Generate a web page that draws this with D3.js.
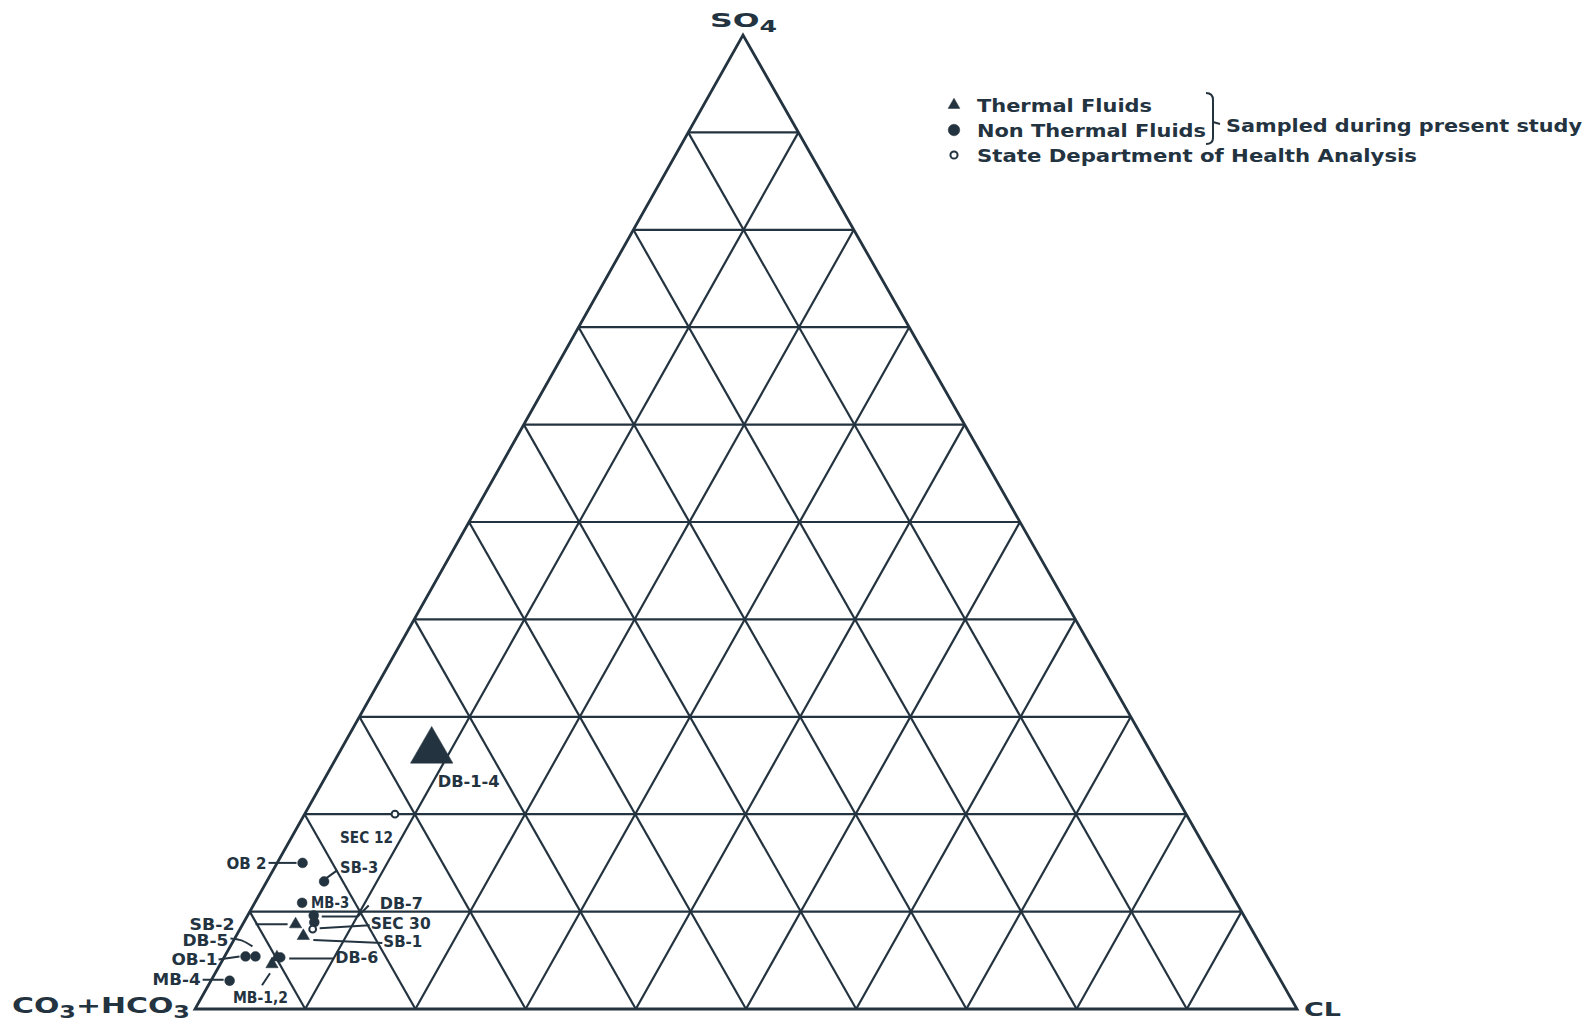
<!DOCTYPE html>
<html>
<head>
<meta charset="utf-8">
<script src="https://cdn.jsdelivr.net/npm/d3@7"></script>
<style>
  body { margin: 0; background: #fff; }
  .labelText { font-family: 'DejaVu Sans', sans-serif; font-weight: bold; fill: #23333f; }
</style>
</head>
<body>
<svg id="svg_piper"></svg>
<script>
// samples (fractions of CO3+HCO3, SO4, CL)
const sampleNames = ['DB-1-4', 'SEC 12', 'OB 2', 'SB-3', 'MB-3', 'DB-7', 'DB-7b', 'SB-2', 'SEC 30', 'SB-1', 'OB-1', 'DB-5', 'DB-6', 'MB-1', 'MB-2', 'MB-4'];
const sampleTypes = ['thermalGroup', 'state', 'nonthermal', 'nonthermal', 'nonthermal', 'nonthermal', 'nonthermal', 'thermal', 'state', 'thermal', 'nonthermal', 'nonthermal', 'nonthermal', 'thermal', 'thermal', 'nonthermal'];
const carbValues = [0.652, 0.718, 0.827, 0.817, 0.848, 0.844, 0.847, 0.865, 0.852, 0.864, 0.927, 0.918, 0.896, 0.907, 0.899, 0.954];
const so4Values  = [0.265, 0.200, 0.150, 0.131, 0.109, 0.096, 0.089, 0.087, 0.082, 0.075, 0.054, 0.054, 0.053, 0.046, 0.053, 0.029];
const clValues   = [0.083, 0.082, 0.023, 0.052, 0.043, 0.060, 0.064, 0.048, 0.066, 0.061, 0.019, 0.028, 0.051, 0.047, 0.048, 0.017];

const gridSteps = [0.1, 0.2, 0.3, 0.4, 0.5, 0.6, 0.7, 0.8, 0.9];
const legendLabels = ['Thermal Fluids', 'Non Thermal Fluids', 'State Department of Health Analysis'];
const bracketLabel = 'Sampled during present study';

// label placement relative to the sample (dx, dy, anchor, leader polyline)
const annotations = [
  { name: 'DB-1-4', text: 'DB-1-4', dx: 6, dy: 36, anchor: 'start', len: 62 },
  { name: 'SEC 12', text: 'SEC 12', dx: -2, dy: 29, anchor: 'end', len: 53 },
  { name: 'OB 2', text: 'OB 2', dx: -36, dy: 6, anchor: 'end', len: 40, leader: [[-34, 0], [-6, 0]] },
  { name: 'SB-3', text: 'SB-3', dx: 16, dy: -8, anchor: 'start', len: 38, leader: [[2, -3], [13, -11]] },
  { name: 'MB-3', text: 'MB-3', dx: 9, dy: 5, anchor: 'start', len: 38 },
  { name: 'DB-7', text: 'DB-7', dx: 66, dy: -6, anchor: 'start', len: 43, leader: [[8, 1], [44, 1], [55, -10]] },
  { name: 'SB-2', text: 'SB-2', dx: -61, dy: 6, anchor: 'end', len: 45, leader: [[-40, 0], [-8, 0]] },
  { name: 'SEC 30', text: 'SEC 30', dx: 58, dy: 0, anchor: 'start', len: 60, leader: [[7, -1], [57, -4]] },
  { name: 'SB-1', text: 'SB-1', dx: 80, dy: 11, anchor: 'start', len: 39, leader: [[10, 4], [79, 7]] },
  { name: 'DB-5', text: 'DB-5', dx: -27, dy: -10, anchor: 'end', len: 46, curve: [[-25, -18], [-14, -16], [-3, -10]] },
  { name: 'OB-1', text: 'OB-1', dx: -28, dy: 9, anchor: 'end', len: 46, leader: [[-27, 3], [-6, 0]] },
  { name: 'DB-6', text: 'DB-6', dx: 55, dy: 6, anchor: 'start', len: 43, leader: [[9, 1], [53, 1]] },
  { name: 'MB-1', text: 'MB-1,2', dx: -39, dy: 39, anchor: 'start', len: 55, leader: [[-10, 21], [-2, 9]] },
  { name: 'MB-4', text: 'MB-4', dx: -29, dy: 4, anchor: 'end', len: 48, leader: [[-27, -1], [-6, -1]] },
];

const width = 1592;
const height = 1025;
const ink = '#23333f';

const samples = sampleNames.map((name, i) => ({
  name: name,
  type: sampleTypes[i],
  carb: carbValues[i],
  so4: so4Values[i],
  cl: clValues[i],
}));

// ternary frame: base from CO3+HCO3 (left) to CL (right), SO4 at the apex
const baseLeft = 195;
const baseRight = 1297;
const apexX = 743;
const xscale = d3.scaleLinear().domain([0, 1]).range([baseLeft, baseRight]);
const yscale = d3.scaleLinear().domain([0, 1]).range([1009, 35]);
const apexShift = (apexX - baseLeft) / (baseRight - baseLeft);
const project = (carb, so4, cl) => [xscale(cl + so4 * apexShift), yscale(so4)];

const svg = d3.select('#svg_piper')
  .attr('width', width)
  .attr('height', height)
  .style('background', '#fff');

const line = d3.line();

// grid lines parallel to each side
const grid = svg.append('g')
  .attr('fill', 'none')
  .attr('stroke', ink)
  .attr('stroke-width', 2.2);

gridSteps.forEach((t) => {
  grid.append('path').attr('d', line([project(1 - t, t, 0), project(0, t, 1 - t)]));
  grid.append('path').attr('d', line([project(1 - t, 0, t), project(0, 1 - t, t)]));
  grid.append('path').attr('d', line([project(t, 0, 1 - t), project(t, 1 - t, 0)]));
});

svg.append('path')
  .attr('d', line([project(1, 0, 0), project(0, 0, 1), project(0, 1, 0)]) + 'Z')
  .attr('fill', 'none')
  .attr('stroke', ink)
  .attr('stroke-width', 2.8)
  .attr('stroke-linejoin', 'miter');

// vertex labels
const vertexLabel = (x, y, parts, len, size) => {
  const t = svg.append('text')
    .attr('class', 'labelText')
    .attr('x', x)
    .attr('y', y)
    .attr('font-size', size)
    .attr('textLength', len)
    .attr('lengthAdjust', 'spacingAndGlyphs');
  parts.forEach((p) => {
    t.append('tspan')
      .attr('dy', p.sub ? 5 : (p.back ? -5 : 0))
      .attr('font-size', p.sub ? size * 0.8 : size)
      .text(p.text);
  });
};

vertexLabel(710, 27, [{ text: 'SO' }, { text: '4', sub: true }], 67, 19);
vertexLabel(12, 1013, [{ text: 'CO' }, { text: '3', sub: true }, { text: '+HCO', back: true }, { text: '3', sub: true }], 178, 21);
vertexLabel(1304, 1016, [{ text: 'CL' }], 37, 19);

// leader lines and labels
const byName = new Map(samples.map((s) => [s.name, s]));
const notes = svg.append('g');

annotations.forEach((a) => {
  const s = byName.get(a.name);
  const [px, py] = project(s.carb, s.so4, s.cl);
  if (a.leader) {
    notes.append('path')
      .attr('d', line(a.leader.map(([dx, dy]) => [px + dx, py + dy])))
      .attr('fill', 'none')
      .attr('stroke', ink)
      .attr('stroke-width', 2);
  }
  if (a.curve) {
    notes.append('path')
      .attr('d', d3.line().curve(d3.curveNatural)(a.curve.map(([dx, dy]) => [px + dx, py + dy])))
      .attr('fill', 'none')
      .attr('stroke', ink)
      .attr('stroke-width', 2);
  }
  notes.append('text')
    .attr('class', 'labelText')
    .attr('x', px + a.dx)
    .attr('y', py + a.dy)
    .attr('text-anchor', a.anchor)
    .attr('font-size', 15)
    .attr('textLength', a.len)
    .attr('lengthAdjust', 'spacingAndGlyphs')
    .text(a.text);
});

// markers
const symbolFor = (type) => {
  if (type === 'thermalGroup') return d3.symbol(d3.symbolTriangle, 780)();
  if (type === 'thermal') return d3.symbol(d3.symbolTriangle, 66)();
  return d3.symbol(d3.symbolCircle, type === 'state' ? 36 : 76)();
};

svg.append('g')
  .selectAll('path')
  .data(samples)
  .enter()
  .append('path')
  .attr('transform', (d) => `translate(${project(d.carb, d.so4, d.cl).join(',')})`)
  .attr('d', (d) => symbolFor(d.type))
  .attr('fill', (d) => (d.type === 'state' ? '#fff' : ink))
  .attr('stroke', ink)
  .attr('stroke-width', (d) => (d.type === 'state' ? 2 : 0.5));

// legend
const legend = svg.append('g');
const legendTypes = ['thermal', 'nonthermal', 'state'];
const legendY = d3.scalePoint().domain(legendTypes).range([105, 155]);
const legendSymbol = {
  thermal: d3.symbol(d3.symbolTriangle, 60)(),
  nonthermal: d3.symbol(d3.symbolCircle, 105)(),
  state: d3.symbol(d3.symbolCircle, 40)(),
};
const legendLens = [175, 229, 440];

legend.selectAll('path')
  .data(legendTypes)
  .enter()
  .append('path')
  .attr('transform', (d) => `translate(954,${legendY(d)})`)
  .attr('d', (d) => legendSymbol[d])
  .attr('fill', (d) => (d === 'state' ? '#fff' : ink))
  .attr('stroke', ink)
  .attr('stroke-width', (d) => (d === 'state' ? 2 : 0.5));

legend.selectAll('text')
  .data(legendLabels)
  .enter()
  .append('text')
  .attr('class', 'labelText')
  .attr('x', 977)
  .attr('y', (d, i) => legendY(legendTypes[i]) + 7)
  .attr('font-size', 18)
  .attr('textLength', (d, i) => legendLens[i])
  .attr('lengthAdjust', 'spacingAndGlyphs')
  .text((d) => d);

// bracket grouping the first two entries
legend.append('path')
  .attr('d', 'M1206,93 Q1213,93 1213,100 L1213,138 Q1213,144 1206,144 M1213,122 L1220,124')
  .attr('fill', 'none')
  .attr('stroke', ink)
  .attr('stroke-width', 2);

legend.append('text')
  .attr('class', 'labelText')
  .attr('x', 1226)
  .attr('y', 132)
  .attr('font-size', 18)
  .attr('textLength', 356)
  .attr('lengthAdjust', 'spacingAndGlyphs')
  .text(bracketLabel);
</script>
</body>
</html>
